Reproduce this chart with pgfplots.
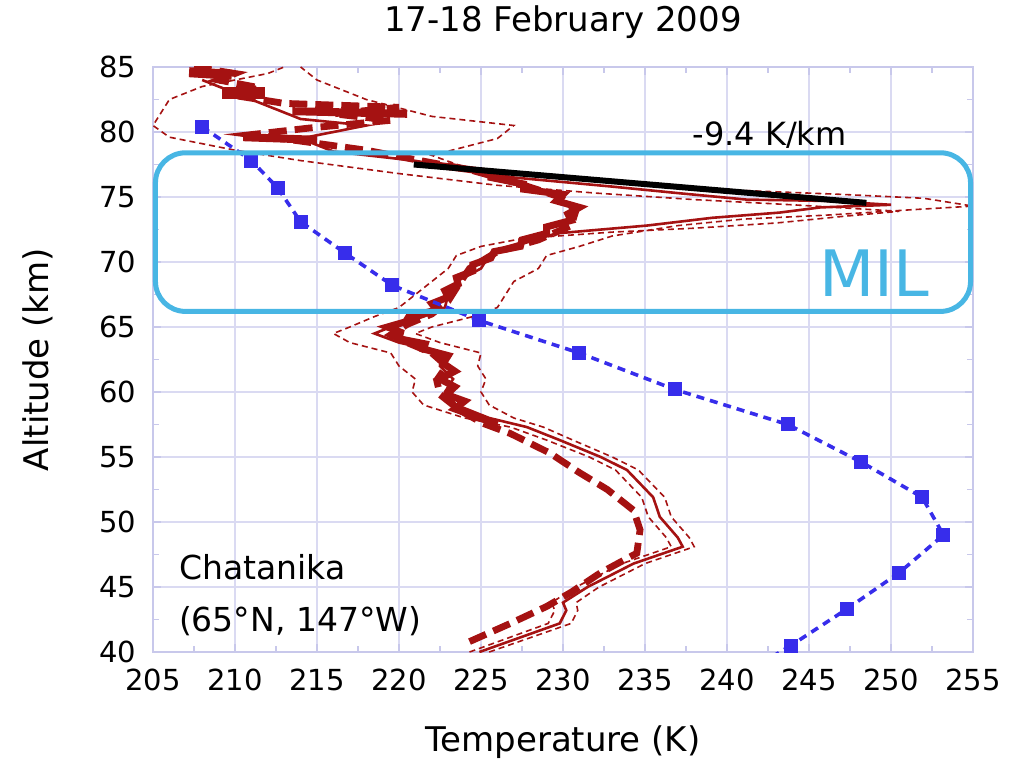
\documentclass[border=0pt]{standalone}
\usepackage{fontspec}
\setmainfont{DejaVu Sans}
\usepackage{pgfplots}
\pgfplotsset{compat=1.18}
\definecolor{gridc}{RGB}{218,218,242}
\definecolor{axc}{RGB}{200,200,235}
\definecolor{tred}{RGB}{165,18,18}
\definecolor{mblue}{RGB}{55,45,235}
\definecolor{milc}{RGB}{72,182,228}
\newcommand{\tl}[1]{{\fontsize{14.5}{16}\selectfont #1}}
\begin{document}
\begin{tikzpicture}
\useasboundingbox (-76.5pt,-56.5pt) rectangle (434pt,326pt);
\begin{axis}[
 scale only axis, width=410pt, height=292.5pt,
 xmin=205, xmax=255, ymin=40, ymax=85,
 xtick={205,210,...,255}, ytick={40,45,...,85},
 xticklabels={\tl{205},\tl{210},\tl{215},\tl{220},\tl{225},\tl{230},\tl{235},\tl{240},\tl{245},\tl{250},\tl{255}},
 yticklabels={\tl{40},\tl{45},\tl{50},\tl{55},\tl{60},\tl{65},\tl{70},\tl{75},\tl{80},\tl{85}},
 minor tick num=1,
 grid=major, major grid style={gridc, line width=0.8pt},
 axis line style={axc, line width=0.8pt},
 tick style={axc, line width=0.6pt},
 major tick length=4pt, minor tick length=3pt,
 every tick label/.append style={text=black},
 xticklabel style={yshift=-5pt},
 yticklabel style={xshift=-5pt},
 title={17-18 February 2009},
 title style={at={(0.5,1.0564)}, anchor=center, font=\fontsize{17}{20}\selectfont},
 xlabel={Temperature (K)},
 xlabel style={at={(0.5,-0.1538)}, anchor=center, font=\fontsize{17}{20}\selectfont},
 ylabel={Altitude (km)},
 ylabel style={at={(-0.1402,0.5)}, anchor=center, font=\fontsize{17}{20}\selectfont},
 clip mode=individual,
]
% thin dashed envelope (right)
\addplot[tred, line width=0.8pt, dash pattern=on 3pt off 2pt] coordinates {
(225.5,40.0) (230.5,42.2) (230.9,43.2) (230.8,43.8) (232.2,45.0) (235.0,46.8) (238.0,48.1)
(237.7,48.8) (236.6,50.4) (236.2,51.9) (234.6,54.0) (233.0,55.0) (230.6,56.3) (228.8,57.3)
(227.0,58.0) (225.5,59.0) (225.0,60.0) (225.3,61.0) (224.8,62.0) (225.0,63.0) (222.5,63.8)
(221.0,64.5) (222.0,65.0) (224.5,65.8) (226.0,66.5) (226.5,67.5) (227.0,68.5) (228.5,69.5)
(229.0,70.5) (231.0,71.2) (233.0,72.0) (237.0,72.8) (241.0,73.3) (246.0,73.6) (251.0,74.0)
(255.0,74.3) (252.0,74.9) (247.0,75.2) (241.0,75.5) (235.0,76.0) (229.0,76.6) (224.0,77.3)
(222.0,78.2) (226.0,79.5) (227.0,80.5) (222.0,81.2) (218.0,82.5) (215.0,84.0) (214.0,85.0)};
% thin dashed envelope (left)
\addplot[tred, line width=0.8pt, dash pattern=on 3pt off 2pt] coordinates {
(224.3,40.0) (229.1,42.2) (229.5,43.2) (229.3,43.8) (230.8,45.0) (233.6,46.8) (236.6,48.1)
(236.3,48.8) (235.2,50.4) (234.8,51.9) (233.2,54.0) (231.6,55.0) (229.0,56.3) (226.8,57.3)
(224.0,58.0) (221.5,59.0) (220.8,60.0) (221.0,61.0) (220.0,62.0) (219.5,63.0) (217.0,63.8)
(216.0,64.5) (217.0,65.0) (218.5,65.8) (220.0,66.5) (221.0,67.5) (222.0,68.5) (223.0,69.5)
(223.5,70.5) (225.0,71.2) (227.5,71.8) (233.0,72.3) (238.0,72.6) (243.0,73.0) (247.0,73.5)
(250.5,73.9) (244.0,74.4) (238.0,74.8) (232.0,75.3) (226.0,75.9) (220.0,76.8) (214.0,77.8)
(210.0,78.6) (206.0,79.6) (205.0,80.5) (206.0,82.5) (208.0,83.5) (212.0,84.5) (213.0,85.0)};
% thick dashed profile
\addplot[tred, line width=3.4pt, dash pattern=on 9pt off 4pt] coordinates {
(224.3,40.8) (226.8,42.2) (229.0,43.5) (230.5,44.6) (232.3,46.1) (234.5,47.6) (234.7,49.4)
(234.3,50.9) (232.7,52.5) (231.0,53.8) (229.2,55.3) (226.8,56.8) (225.1,57.6) (223.7,58.6)
(222.5,59.8) (222.3,60.9) (222.9,62.0) (222.0,63.0) (220.5,63.8) (219.5,64.4) (220.5,65.2)
(222.0,66.0) (223.0,67.0) (223.5,68.0) (224.3,69.5) (226.0,70.8) (228.5,71.7) (230.5,72.8)
(230.8,74.0) (229.8,75.0) (227.4,76.0) (224.3,77.1) (221.3,77.8) (218.0,78.6) (214.0,79.3)
(211.0,79.8) (214.5,80.3) (219.5,80.9) (216.0,81.4) (220.0,81.9) (213.0,82.2) (210.0,82.8)
(211.5,83.4) (209.0,84.0) (210.0,84.5) (207.5,85.0)};
% blobs at the top
\addplot[tred, line width=5pt] coordinates {(207.2,84.6) (209.8,84.4)};
\addplot[tred, line width=6pt] coordinates {(209.2,83.0) (211.8,83.0)};
\addplot[tred, line width=4pt] coordinates {(213.5,81.6) (220.5,81.4)};
\addplot[tred, line width=4pt] coordinates {(210.5,79.6) (215.0,79.4)};
% noisy thick cluster
\addplot[tred, line width=3.5pt] coordinates {
(226,57.5) (224.5,58.2) (223.4,58.7) (224.0,59.3) (222.9,59.8) (223.4,60.4) (222.5,61)
(223.4,61.6) (222.7,62.2) (223.0,62.8) (221.5,63.3) (221.6,63.7) (220.0,64.1) (220.1,64.6)
(219.3,65.0) (220.4,65.4) (220.6,65.8) (222.3,66.3) (222.0,66.8) (223.0,67.3) (222.8,67.8)
(223.6,68.3) (223.5,68.8) (224.5,69.3) (224.5,69.8) (225.6,70.3) (225.8,70.8) (227.4,71.2) (227.5,71.7)
(229.0,72.2) (229.0,72.7) (230.5,73.2) (230.3,73.7) (231.0,74.2) (229.6,74.7) (230.0,75.2)
(227.6,75.6) (227.6,76.0) (225.6,76.5) (225.6,76.9) (222,77.5)};
% solid profile
\addplot[tred, line width=1.3pt] coordinates {
(224.9,40.0) (229.8,42.2) (230.2,43.2) (230.0,43.8) (231.5,45.0) (234.3,46.8) (237.3,48.1)
(237.0,48.8) (235.9,50.4) (235.5,51.9) (233.9,54.0) (232.3,55.0) (229.8,56.3) (227.8,57.3)
(225.5,58.0) (223.5,59.0) (222.8,60.0) (223.3,61.0) (222.5,62.0) (222.8,63.0) (220.0,63.8)
(218.5,64.5) (219.5,65.0) (221.5,65.8) (222.8,66.5) (223.0,67.5) (223.5,68.5) (225.0,69.5)
(225.5,70.5) (227.0,71.2) (229.6,72.2) (235.1,72.8) (239.1,73.4) (243.2,73.8) (245.7,74.2)
(250.0,74.4) (246.0,74.7) (241.2,74.8) (237.0,75.3) (233.0,75.8) (227.0,76.5) (220.9,77.8)
(216.0,78.5) (214.0,79.5) (218.0,80.5) (214.0,81.0) (212.0,82.0) (210.0,83.0) (208.0,84.0)};
% model (blue)
\addplot[mblue, line width=1.8pt, dash pattern=on 4pt off 3pt, mark=square*,
  mark size=2.6pt, mark options={solid}] coordinates {
(208.0,80.4) (211.0,77.8) (212.6,75.7) (214.0,73.1) (216.7,70.7) (219.6,68.2) (224.9,65.5)
(231.0,63.0) (236.8,60.2) (243.7,57.5) (248.2,54.6) (251.9,51.9) (253.2,49.0) (250.5,46.1)
(247.3,43.3) (243.9,40.5)};
\addplot[mblue, line width=1.8pt, dash pattern=on 4pt off 3pt] coordinates {
(243.9,40.5) (242.3,39.3)};
% lapse-rate fit
\addplot[black, line width=3pt] coordinates {(220.9,77.5) (248.5,74.55)};
\draw[milc, line width=2.5pt, rounded corners=15pt]
  (axis cs:205.15,66.2) rectangle (axis cs:254.85,78.4);
\node[milc, font=\fontsize{32}{36}\selectfont] at (axis cs:249.0,69.15) {MIL};
\node[font=\fontsize{16}{19}\selectfont] at (axis cs:242.6,79.77) {-9.4 K/km};
\node[anchor=base west, font=\fontsize{16.5}{19}\selectfont] at (axis cs:206.16,45.54) {Chatanika};
\node[anchor=base west, font=\fontsize{16.5}{19}\selectfont] at (axis cs:206.16,41.54) {(65°N, 147°W)};
\end{axis}
\end{tikzpicture}
\end{document}
